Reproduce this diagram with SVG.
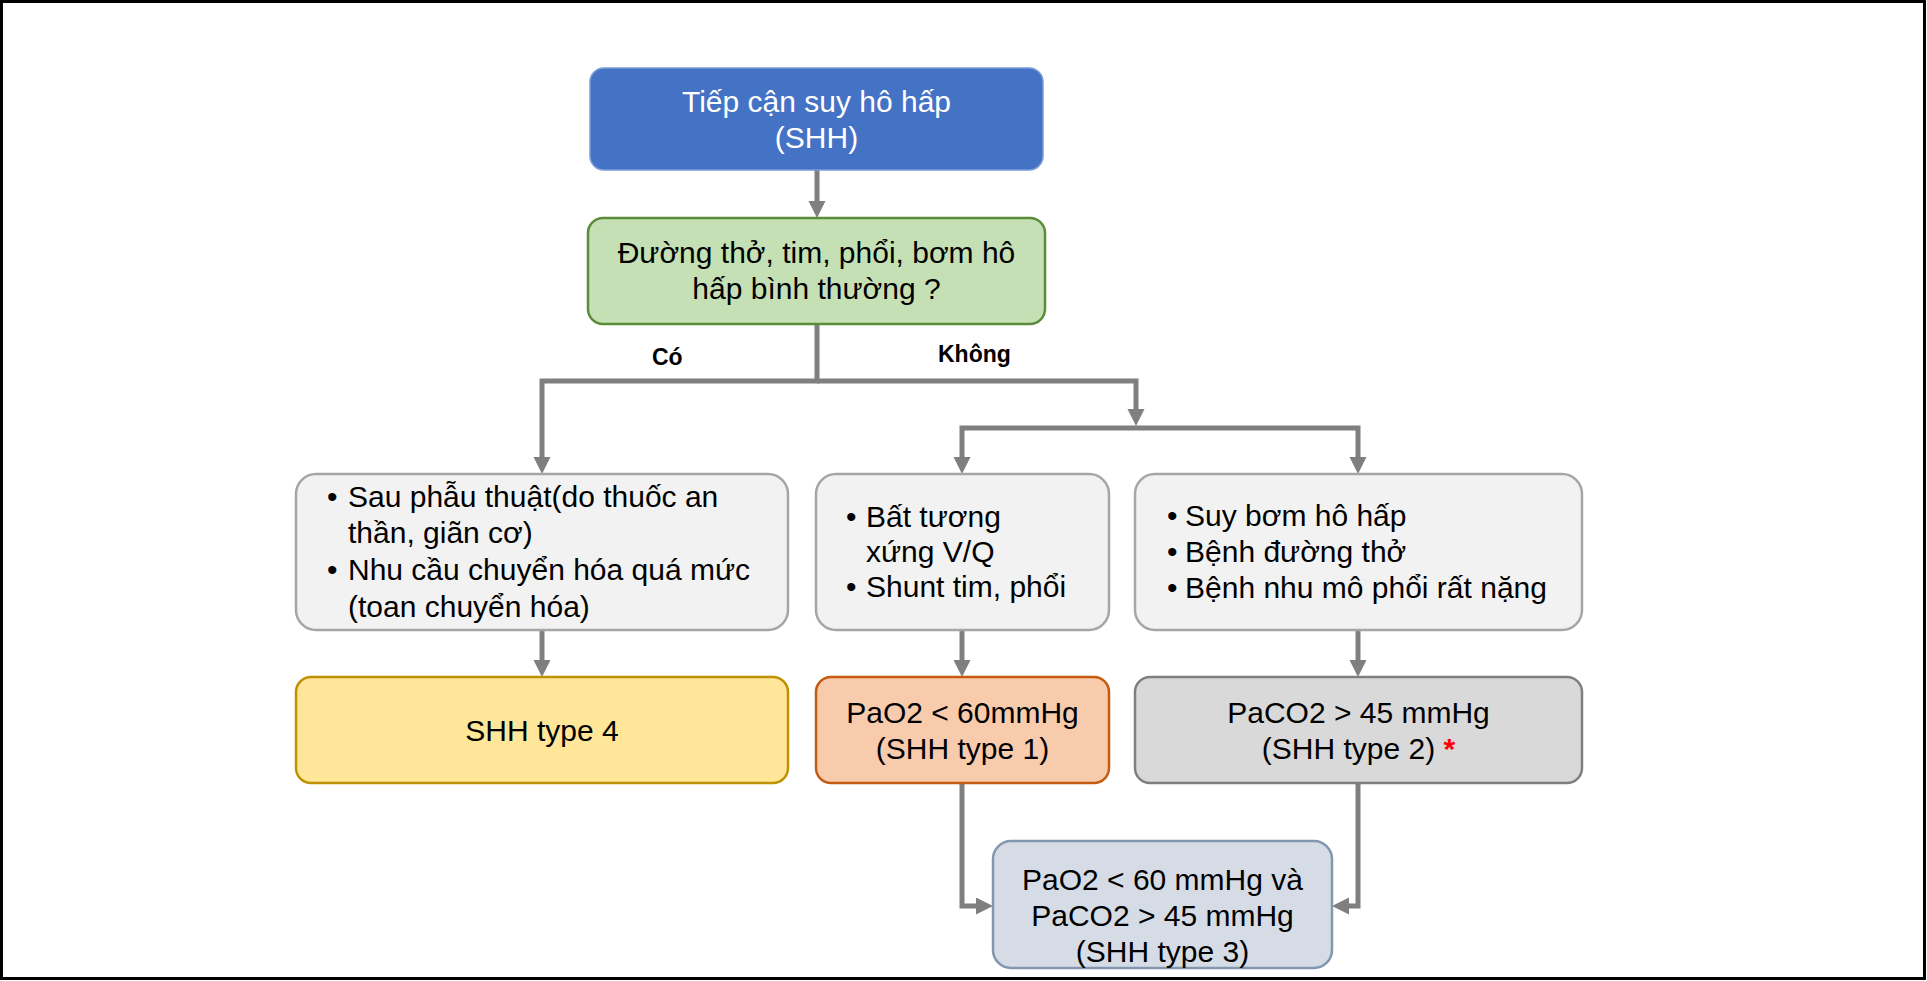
<svg xmlns="http://www.w3.org/2000/svg" width="1927" height="981" viewBox="0 0 1927 981">
  <defs>
    <marker id="ah" markerUnits="userSpaceOnUse" markerWidth="18" markerHeight="18" refX="0" refY="8.5" orient="auto">
      <path d="M0,0 L17,8.5 L0,17 z" fill="#7F7F7F"/>
    </marker>
    <style>
      .t { font-family: "Liberation Sans", Arial, sans-serif; font-size: 30px; fill: #000; }
      .c { text-anchor: middle; }
      .w { fill: #fff; }
      .lbl { font-family: "Liberation Sans", Arial, sans-serif; font-size: 23px; font-weight: bold; fill: #000; }
      .conn { fill: none; stroke: #7F7F7F; stroke-width: 5; marker-end: url(#ah); }
      .box { stroke-width: 2.5; }
    </style>
  </defs>
  <rect x="0" y="0" width="1927" height="981" fill="#fff"/>
  <rect x="1.5" y="1.5" width="1923" height="977" fill="none" stroke="#000" stroke-width="3"/>

  <g id="connectors">
    <path class="conn" d="M817,170 V201"/>
    <path class="conn" d="M817,324 V381 H542 V457"/>
    <path class="conn" d="M817,381 H1136 V409"/>
    <path class="conn" d="M1136,428 H962 V457"/>
    <path class="conn" d="M1136,428 H1358 V457"/>
    <path class="conn" d="M542,630 V660"/>
    <path class="conn" d="M962,630 V660"/>
    <path class="conn" d="M1358,630 V660"/>
    <path class="conn" d="M962,783 V906 H976"/>
    <path class="conn" d="M1358,783 V906 H1349"/>
  </g>

  <g id="labels">
    <text class="lbl" x="652" y="365">Có</text>
    <text class="lbl" x="938" y="362">Không</text>
  </g>

  <g id="start">
    <rect x="590" y="68" width="453" height="102" rx="14" fill="#4472C4" stroke="#7A9AD8" stroke-width="1.5"/>
    <text class="t c w" x="816.5" y="112">Tiếp cận suy hô hấp</text>
    <text class="t c w" x="816.5" y="148">(SHH)</text>
  </g>

  <g id="question">
    <rect class="box" x="588" y="218" width="457" height="106" rx="15" fill="#C5E0B4" stroke="#5B8C3A"/>
    <text class="t c" x="816.5" y="263">Đường thở, tim, phổi, bơm hô</text>
    <text class="t c" x="816.5" y="299">hấp bình thường ?</text>
  </g>

  <g id="causes4">
    <rect class="box" x="296" y="474" width="492" height="156" rx="20" fill="#F2F2F2" stroke="#A6A6A6"/>
    <text class="t" x="327" y="507">•</text>
    <text class="t" x="348" y="507">Sau phẫu thuật(do thuốc an</text>
    <text class="t" x="348" y="543">thần, giãn cơ)</text>
    <text class="t" x="327" y="580">•</text>
    <text class="t" x="348" y="580">Nhu cầu chuyển hóa quá mức</text>
    <text class="t" x="348" y="617">(toan chuyển hóa)</text>
  </g>

  <g id="causes1">
    <rect class="box" x="816" y="474" width="293" height="156" rx="20" fill="#F2F2F2" stroke="#A6A6A6"/>
    <text class="t" x="846" y="527">•</text>
    <text class="t" x="866" y="527">Bất tương</text>
    <text class="t" x="866" y="562">xứng V/Q</text>
    <text class="t" x="846" y="597">•</text>
    <text class="t" x="866" y="597">Shunt tim, phổi</text>
  </g>

  <g id="causes2">
    <rect class="box" x="1135" y="474" width="447" height="156" rx="20" fill="#F2F2F2" stroke="#A6A6A6"/>
    <text class="t" x="1167" y="526">•</text>
    <text class="t" x="1185" y="526">Suy bơm hô hấp</text>
    <text class="t" x="1167" y="562">•</text>
    <text class="t" x="1185" y="562">Bệnh đường thở</text>
    <text class="t" x="1167" y="598">•</text>
    <text class="t" x="1185" y="598">Bệnh nhu mô phổi rất nặng</text>
  </g>

  <g id="type4">
    <rect class="box" x="296" y="677" width="492" height="106" rx="15" fill="#FFE699" stroke="#BF9000"/>
    <text class="t c" x="542" y="741">SHH type 4</text>
  </g>

  <g id="type1">
    <rect class="box" x="816" y="677" width="293" height="106" rx="15" fill="#F8CBAD" stroke="#C55A11"/>
    <text class="t c" x="962.5" y="723">PaO2 &lt; 60mmHg</text>
    <text class="t c" x="962.5" y="759">(SHH type 1)</text>
  </g>

  <g id="type2">
    <rect class="box" x="1135" y="677" width="447" height="106" rx="15" fill="#D9D9D9" stroke="#7F7F7F"/>
    <text class="t c" x="1358.5" y="723">PaCO2 &gt; 45 mmHg</text>
    <text class="t c" x="1358.5" y="759">(SHH type 2) <tspan fill="#FF0000" font-weight="bold">*</tspan></text>
  </g>

  <g id="type3">
    <rect class="box" x="993" y="841" width="339" height="127" rx="18" fill="#D6DCE5" stroke="#8497B0"/>
    <text class="t c" x="1162.5" y="890">PaO2 &lt; 60 mmHg và</text>
    <text class="t c" x="1162.5" y="926">PaCO2 &gt; 45 mmHg</text>
    <text class="t c" x="1162.5" y="962">(SHH type 3)</text>
  </g>
</svg>
